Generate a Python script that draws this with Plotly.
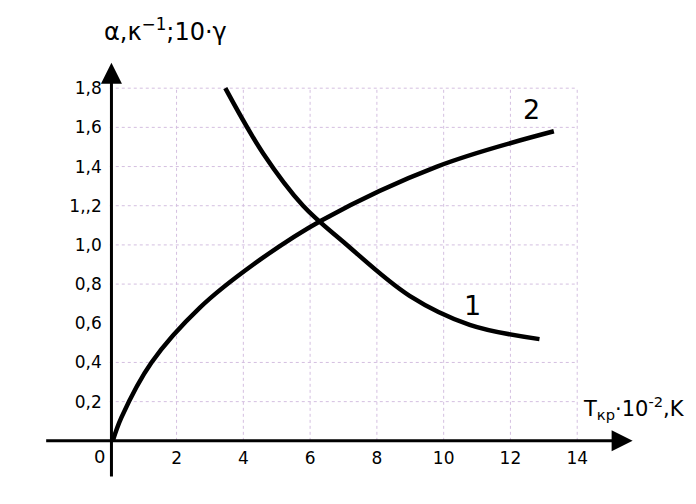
import plotly.graph_objects as go

# Data
# ===================================================
# curve 1 (falling) and curve 2 (rising)
x1 = [3.46, 4.59, 5.79, 7.0, 8.98, 10.78, 12.87]
y1 = [1.80, 1.468, 1.20, 1.015, 0.74, 0.592, 0.519]

x2 = [0.09, 0.35, 1.25, 2.7, 4.3, 6.34, 9.8, 13.3]
y2 = [0, 0.12, 0.40, 0.68, 0.90, 1.125, 1.40, 1.58]

x_ticks = [2, 4, 6, 8, 10, 12, 14]
x_ticktext = ["2", "4", "6", "8", "10", "12", "14"]
y_ticks = [0.2, 0.4, 0.6, 0.8, 1.0, 1.2, 1.4, 1.6, 1.8]
y_ticktext = ["0,2", "0,4", "0,6", "0,8", "1,0", "1,,2", "1,4", "1,6", "1,8"]

# grid as drawn in the source (no line at 0.6)
grid_x = [2, 4, 6, 8, 10, 12, 14]
grid_y = [0.2, 0.4, 0.8, 1.0, 1.2, 1.4, 1.6, 1.8]

x_range = [-2.0, 16.3]
y_range = [-0.2, 2.0]

FONT = "DejaVu Sans"
grid_color = "#d4bfe0"

# Figure
# ===================================================
fig = go.Figure()

for gx in grid_x:
    fig.add_shape(type="line", xref="x", yref="y", x0=gx, x1=gx, y0=0, y1=1.8,
                  line=dict(color=grid_color, width=1, dash="dot"), layer="below")
for gy in grid_y:
    fig.add_shape(type="line", xref="x", yref="y", x0=0, x1=14, y0=gy, y1=gy,
                  line=dict(color=grid_color, width=1, dash="dot"), layer="below")

fig.add_trace(go.Scatter(x=x1, y=y1, mode="lines",
                         line=dict(color="black", width=4.5, shape="spline", smoothing=1.0),
                         showlegend=False, hoverinfo="skip"))
fig.add_trace(go.Scatter(x=x2, y=y2, mode="lines",
                         line=dict(color="black", width=4.5, shape="spline", smoothing=1.0),
                         showlegend=False, hoverinfo="skip"))

# Axes with arrows
arrow = dict(showarrow=True, arrowhead=2, arrowsize=1.4, arrowwidth=3,
             arrowcolor="black", axref="x", ayref="y", xref="x", yref="y",
             standoff=0, text="")
fig.add_annotation(x=15.66, y=0, ax=-1.95, ay=0, **arrow)
fig.add_annotation(x=0.05, y=1.93, ax=0.05, ay=-0.19, **arrow)

# Texts
fig.add_annotation(x=-0.3, y=-0.08, text="0", showarrow=False,
                   font=dict(family=FONT, size=18, color="black"))
fig.add_annotation(x=10.87, y=0.69, text="1", showarrow=False,
                   font=dict(family=FONT, size=27, color="black"))
fig.add_annotation(x=12.63, y=1.69, text="2", showarrow=False,
                   font=dict(family=FONT, size=27, color="black"))
fig.add_annotation(x=1.68, xref="x", y=1.044, yref="paper", yanchor="middle",
                   text="\u03b1,\u03ba<sup>\u22121</sup>;10\u00b7\u03b3",
                   showarrow=False, font=dict(family=FONT, size=24, color="black"))
fig.add_annotation(x=14.1, y=0.17, xanchor="left",
                   text="T<sub>\u043a\u0440</sub>\u00b710<sup>-2</sup>,K",
                   showarrow=False, font=dict(family=FONT, size=21, color="black"))

# page body has an 8px margin, so the figure is a little smaller than the window
fig.update_layout(
    width=680, height=488,
    margin=dict(l=35, r=34, t=41, b=16),
    plot_bgcolor="white", paper_bgcolor="white",
    xaxis=dict(range=x_range, showgrid=False, zeroline=False, showline=False,
               tickvals=x_ticks, ticktext=x_ticktext, ticks="",
               anchor="free", position=(0 - y_range[0]) / (y_range[1] - y_range[0]),
               ticklabelstandoff=5,
               tickfont=dict(family=FONT, size=17, color="black")),
    yaxis=dict(range=y_range, showgrid=False, zeroline=False, showline=False,
               tickvals=y_ticks, ticktext=y_ticktext, ticks="",
               anchor="free", position=(0 - x_range[0]) / (x_range[1] - x_range[0]),
               ticklabelstandoff=8,
               tickfont=dict(family=FONT, size=17, color="black")),
)

fig.write_html("out.html")
